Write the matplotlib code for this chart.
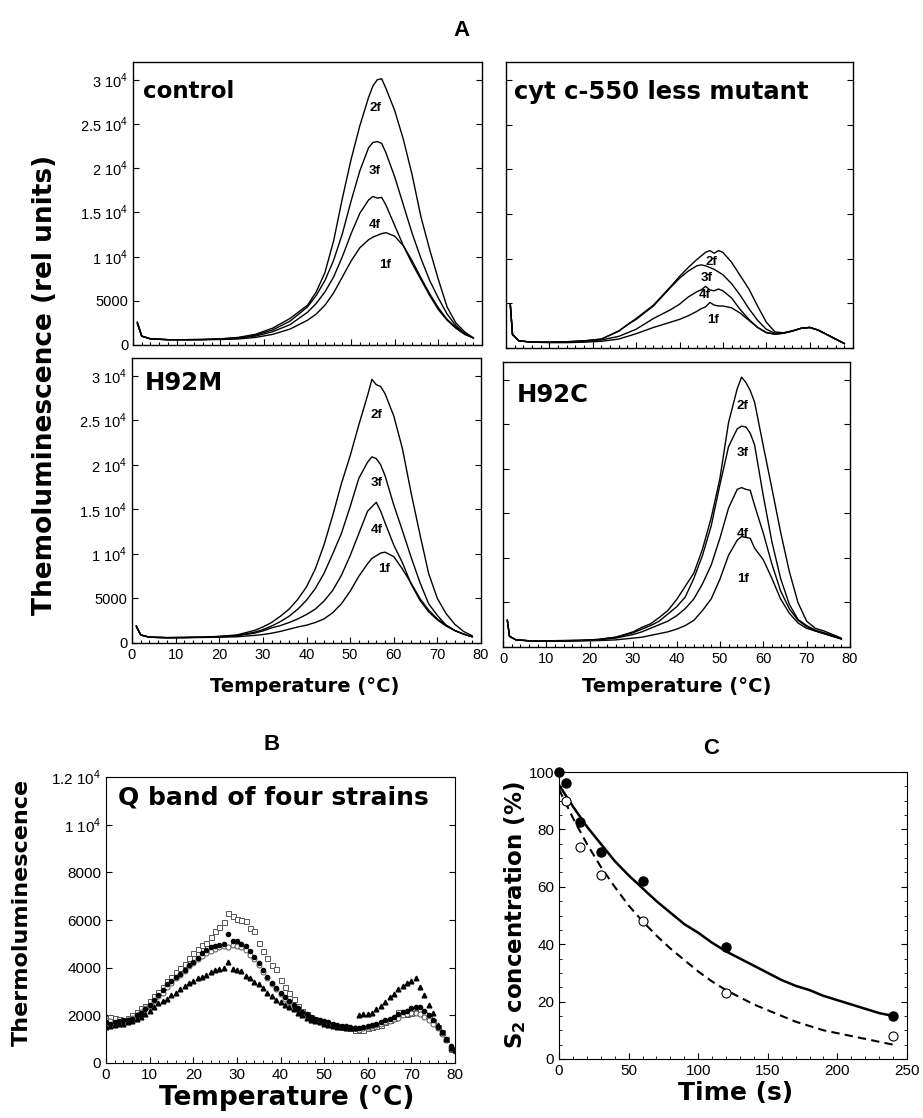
import matplotlib
matplotlib.use("Agg")
import matplotlib.pyplot as plt
from matplotlib.ticker import MultipleLocator, FixedLocator

plt.rcParams['font.family'] = ['Liberation Sans', 'DejaVu Sans']
plt.rcParams['mathtext.fontset'] = 'custom'
plt.rcParams['mathtext.rm'] = 'Liberation Sans'

# ---------------- Panel A data ----------------
temp_ctrl = [1, 2, 4, 8, 12, 16, 20, 24, 28, 32, 36, 40, 42, 44, 46, 48, 50, 52, 54, 55, 56, 57, 58, 60, 62, 64, 66, 68, 70, 72, 74, 76, 78]
ctrl_2f = [2600, 1000, 700, 600, 600, 620, 700, 850, 1200, 1900, 3000, 4500, 6000, 8200, 11800, 16600, 21000, 24800, 28000, 29300, 30000, 30100, 29000, 26500, 23200, 19200, 14500, 10800, 7400, 4300, 2500, 1500, 800]
ctrl_3f = [2500, 1000, 700, 600, 600, 620, 680, 800, 1100, 1700, 2700, 4300, 5600, 7300, 9600, 12600, 16300, 19700, 22300, 22900, 23000, 22800, 21700, 19000, 15800, 12600, 9800, 7300, 5300, 3500, 2200, 1300, 800]
ctrl_4f = [2500, 1000, 700, 600, 600, 620, 660, 760, 1000, 1500, 2300, 3700, 4700, 6000, 7700, 10000, 12600, 14900, 16400, 16800, 16600, 16700, 15800, 13500, 11200, 9200, 7400, 5600, 4000, 2800, 1900, 1200, 800]
ctrl_1f = [2400, 1000, 700, 600, 600, 600, 620, 680, 850, 1200, 1800, 2800, 3500, 4500, 5900, 7700, 9500, 11000, 11900, 12200, 12400, 12600, 12700, 12300, 11200, 9500, 7600, 5800, 4200, 2900, 2000, 1300, 800]

temp_cyt = [1, 1.5, 3, 6, 10, 14, 18, 22, 26, 28, 30, 34, 38, 40, 42, 44, 45, 46, 47, 48, 49, 50, 52, 54, 56, 58, 60, 62, 64, 66, 68, 70, 72, 74, 76, 78]
cyt_2f = [4800, 1500, 800, 650, 650, 700, 800, 1000, 1900, 2600, 3300, 4800, 6900, 8000, 9000, 9900, 10300, 10700, 10900, 10600, 10900, 10700, 9600, 8100, 6600, 4700, 2900, 1800, 1700, 1900, 2200, 2300, 2000, 1500, 1000, 500]
cyt_3f = [4800, 1500, 800, 650, 650, 700, 800, 1000, 1900, 2600, 3200, 4700, 6800, 7800, 8600, 9200, 9300, 9200, 9000, 8800, 8500, 8200, 7200, 5900, 4400, 3100, 2100, 1650, 1700, 1900, 2200, 2300, 2000, 1500, 1000, 500]
cyt_4f = [4800, 1500, 800, 650, 650, 680, 750, 900, 1300, 1700, 2100, 3300, 4300, 4900, 5700, 6300, 6500, 6900, 6500, 6400, 6600, 6400, 5600, 4300, 3200, 2300, 1700, 1550, 1650, 1900, 2200, 2300, 2000, 1500, 1000, 500]
cyt_1f = [4800, 1500, 800, 650, 600, 600, 650, 750, 1000, 1300, 1600, 2300, 2900, 3200, 3600, 4100, 4400, 4600, 5100, 4800, 4700, 4700, 4500, 3900, 3100, 2300, 1750, 1550, 1650, 1900, 2200, 2300, 2000, 1500, 1000, 500]

temp_m = [1, 2, 4, 8, 12, 16, 20, 24, 28, 30, 32, 34, 36, 38, 40, 42, 44, 46, 48, 50, 52, 54, 55, 56, 57, 58, 60, 62, 64, 66, 68, 70, 72, 74, 76, 78]
m_2f = [1900, 900, 650, 600, 620, 650, 750, 900, 1400, 1800, 2300, 3000, 3800, 4900, 6300, 8300, 11000, 14300, 17900, 21000, 24500, 27800, 29600, 29000, 28800, 28000, 25500, 21800, 16800, 12200, 7800, 5000, 3300, 2100, 1300, 800]
m_3f = [1900, 900, 650, 600, 620, 650, 720, 850, 1200, 1500, 1900, 2400, 3000, 3800, 4800, 6100, 7800, 10000, 12300, 15300, 18500, 20300, 20900, 20700, 20000, 18800, 15500, 12600, 9600, 6800, 4400, 3100, 2000, 1400, 1000, 700]
m_4f = [1900, 900, 650, 600, 620, 650, 700, 800, 1100, 1350, 1700, 1950, 2300, 2700, 3200, 3800, 4700, 5900, 7600, 9800, 12300, 14800, 15300, 15800, 14800, 13500, 11000, 9000, 6600, 4800, 3500, 2600, 1900, 1400, 1000, 700]
m_1f = [1800, 900, 650, 600, 600, 620, 650, 700, 850, 950, 1100, 1300, 1550, 1800, 2000, 2300, 2700, 3400, 4400, 5800, 7500, 8900, 9500, 9800, 10100, 10200, 9700, 8300, 6700, 5000, 3700, 2700, 2000, 1400, 1000, 700]

temp_c = [1, 1.5, 3, 6, 10, 14, 18, 22, 26, 30, 32, 34, 36, 38, 40, 42, 44, 46, 48, 50, 52, 54, 55, 56, 57, 58, 60, 62, 64, 66, 68, 70, 72, 74, 76, 78]
c_2f = [3000, 1200, 800, 700, 700, 720, 750, 850, 1100, 1700, 2200, 2600, 3300, 4100, 5300, 6800, 8300, 11000, 14500, 18900, 25200, 29000, 30300, 29700, 28800, 27500, 22600, 17800, 12900, 8500, 5000, 2900, 2100, 1800, 1400, 1000]
c_3f = [3000, 1200, 800, 700, 700, 720, 750, 850, 1100, 1600, 2000, 2400, 2900, 3700, 4500, 5600, 7700, 10300, 13600, 18200, 22500, 24500, 24800, 24700, 24000, 22700, 17000, 11800, 7700, 4800, 3100, 2400, 1900, 1600, 1300, 900]
c_4f = [3000, 1200, 800, 700, 700, 700, 730, 800, 1000, 1400, 1700, 2100, 2500, 2900, 3500, 4300, 5400, 7100, 9200, 12200, 15600, 17700, 17900, 17700, 17600, 15900, 12800, 9300, 6300, 4300, 3000, 2300, 1800, 1500, 1200, 900]
c_1f = [3000, 1200, 800, 700, 650, 650, 680, 720, 800, 1000, 1100, 1300, 1500, 1700, 2000, 2400, 3000, 4100, 5400, 7600, 10300, 12000, 12400, 12300, 12200, 11100, 9800, 7700, 5400, 3800, 2700, 2100, 1800, 1500, 1200, 900]

# curve label positions (T, value) per panel
lab_names = ['2f', '3f', '4f', '1f']
lab_ctrl = [(55.5, 26800), (55.5, 19700), (55.5, 13600), (57.8, 9100)]
lab_cyt = [(47.4, 9600), (46.3, 7800), (45.9, 5900), (47.7, 3100)]
lab_m = [(56.0, 25600), (56.0, 18000), (56.0, 12700), (57.8, 8300)]
lab_c = [(55.3, 27100), (55.3, 21800), (55.3, 12700), (55.3, 7600)]

y_ticks_A = [0, 5000, 10000, 15000, 20000, 25000, 30000]
y_ticklabels_A = ['0', '5000', r'1 10$^4$', r'1.5 10$^4$', r'2 10$^4$', r'2.5 10$^4$', r'3 10$^4$']

# ---------------- Panel B data ----------------
temp_B = list(range(0, 81))
B_squares = [1900, 1950, 1900, 1850, 1800, 1900, 2000, 2150, 2300, 2400, 2600, 2800, 3000, 3200, 3450, 3600, 3800, 4000, 4150, 4400,
             4600, 4800, 4950, 5050, 5300, 5550, 5700, 5900, 6300, 6150, 6050, 6000, 5950, 5650, 5550, 5050, 4700, 4400, 4100, 3950,
             3500, 3200, 2950, 2700, 2400, 2200, 2050, 1950, 1850, 1750, 1700, 1650, 1600, 1550, 1500, 1500, 1450, 1400, 1380, 1400,
             1450, 1500, 1550, 1600, 1700, 1800, 1900, 2150, 2100, 2050, 2100, 2150, 2200, 2050, 1900, 1750, 1500, 1300, 1000, 600, 550]
B_fcircles = [1700, 1650, 1700, 1750, 1800, 1800, 1850, 2000, 2100, 2250, 2450, 2650, 2850, 3050, 3300, 3450, 3600, 3750, 3900, 4100,
              4250, 4400, 4600, 4750, 4850, 4900, 4950, 5000, 5400, 5100, 5100, 5000, 4900, 4700, 4450, 4200, 3900, 3600, 3350, 3150,
              2950, 2750, 2600, 2450, 2300, 2150, 2050, 1950, 1850, 1800, 1750, 1700, 1650, 1600, 1550, 1550, 1500, 1450, 1450, 1500,
              1550, 1600, 1650, 1700, 1800, 1850, 1950, 2050, 2150, 2200, 2300, 2350, 2350, 2200, 2000, 1800, 1500, 1300, 1000, 700, 550]
B_ocircles = [1800, 1750, 1650, 1700, 1750, 1800, 1900, 2000, 2150, 2300, 2400, 2600, 2800, 2950, 3200, 3350, 3550, 3700, 3850, 4050,
              4200, 4350, 4500, 4600, 4700, 4800, 4850, 4900, 4850, 4950, 4900, 4850, 4750, 4550, 4350, 4100, 3800, 3550, 3300, 3100,
              2900, 2700, 2550, 2400, 2250, 2100, 2000, 1900, 1800, 1750, 1700, 1650, 1600, 1550, 1500, 1500, 1450, 1450, 1400, 1450,
              1500, 1550, 1600, 1650, 1700, 1750, 1850, 1900, 2000, 2050, 2100, 2100, 2050, 1950, 1800, 1650, 1450, 1200, 950, 650, 500]
B_triangles = [1500, 1550, 1600, 1650, 1650, 1700, 1750, 1850, 1950, 2050, 2200, 2350, 2500, 2600, 2700, 2850, 2950, 3100, 3250, 3350,
               3450, 3550, 3600, 3700, 3800, 3900, 3950, 4000, 4250, 3950, 3900, 3850, 3650, 3550, 3400, 3300, 3150, 2950, 2800, 2650,
               2550, 2450, 2350, 2250, 2100, 2000, 1900, 1800, 1750, 1700, 1650, 1600, 1550, 1520, 1500, 1480, 1450, 1450, 2000, 2050,
               2050, 2100, 2250, 2400, 2550, 2750, 2900, 3100, 3250, 3350, 3450, 3550, 3200, 2850, 2450, 2100, 1600, 1300, 1000, 650, 550]
y_ticks_B = [0, 2000, 4000, 6000, 8000, 10000, 12000]
y_ticklabels_B = ['0', '2000', '4000', '6000', '8000', r'1 10$^4$', r'1.2 10$^4$']

# ---------------- Panel C data ----------------
time_pts = [0, 5, 15, 30, 60, 120, 240]
S2_filled = [100, 96, 82.5, 72, 62, 39, 15]
time_open = [5, 15, 30, 60, 120, 240]
S2_open = [90, 74, 64, 48, 23, 8]
time_fit = [0, 10, 20, 30, 40, 50, 60, 70, 80, 90, 100, 110, 120, 130, 140, 150, 160, 170, 180, 190, 200, 210, 220, 230, 240]
fit_solid = [95.5, 88, 81, 75, 69, 64, 59.5, 55, 51, 47, 44, 40.5, 37.5, 35, 32.5, 30, 27.5, 25.5, 24, 22, 20.5, 19, 17.5, 16, 15]
fit_dashed = [94, 84, 75, 67, 60, 53.5, 48, 43, 38.5, 34.5, 30.5, 27, 24, 21.5, 19, 17, 15, 13, 11.5, 10, 9, 8, 7, 6, 5]

# ---------------- Figure ----------------
W, H = 923, 1118
fig = plt.figure(figsize=(W / 100, H / 100), dpi=100)


def ax_at(l, r, t, b):
    return fig.add_axes([l / W, 1 - b / H, (r - l) / W, (b - t) / H])


title_font = dict(family=['DejaVu Sans'], fontweight='bold')


def style_A(ax, show_x, show_y):
    ax.set_xlim(0, 80)
    ax.set_ylim(0, 32000)
    ax.xaxis.set_major_locator(MultipleLocator(10))
    ax.xaxis.set_minor_locator(MultipleLocator(2))
    ax.yaxis.set_major_locator(FixedLocator(y_ticks_A))
    ax.tick_params(which='both', direction='in', top=False, right=True, labelsize=10.5, width=0.8)
    ax.tick_params(which='major', length=4)
    ax.tick_params(which='minor', length=2.5)
    if show_y:
        ax.set_yticklabels(y_ticklabels_A)
    else:
        ax.set_yticklabels([])
    if not show_x:
        ax.set_xticklabels([])
    for s in ax.spines.values():
        s.set_linewidth(1.0)


panels = [
    ((133, 482, 62, 345), temp_ctrl, [ctrl_2f, ctrl_3f, ctrl_4f, ctrl_1f], lab_ctrl, 'control', (0.029, 0.894), 16.5, False, True),
    ((506, 853, 62, 348), temp_cyt, [cyt_2f, cyt_3f, cyt_4f, cyt_1f], lab_cyt, 'cyt c-550 less mutant', (0.023, 0.895), 17.5, False, False),
    ((132, 481, 358, 643), temp_m, [m_2f, m_3f, m_4f, m_1f], lab_m, 'H92M', (0.037, 0.912), 17.5, True, True),
    ((503, 850, 362, 647), temp_c, [c_2f, c_3f, c_4f, c_1f], lab_c, 'H92C', (0.04, 0.884), 17.5, True, False),
]

for box, T, curves, labs, name, npos, fs, sx, sy in panels:
    ax = ax_at(*box)
    for ys in curves:
        ax.plot(T, ys, color='black', lw=1.0)
    for nm, (lx, ly) in zip(lab_names, labs):
        ax.text(lx, ly, nm, ha='center', va='center', fontsize=9.5, fontweight='bold')
    ax.text(npos[0], npos[1], name, transform=ax.transAxes, ha='left', va='center', fontsize=fs, **title_font)
    style_A(ax, sx, sy)

fig.text(461 / W, 1 - 30 / H, 'A', ha='center', va='center', fontsize=16, fontweight='bold')
fig.text(45 / W, 1 - 385 / H, 'Themoluminescence (rel units)', rotation=90, ha='center', va='center', fontsize=19, **title_font)
fig.text(305 / W, 1 - 687 / H, 'Temperature (°C)', ha='center', va='center', fontsize=14, **title_font)
fig.text(677 / W, 1 - 687 / H, 'Temperature (°C)', ha='center', va='center', fontsize=14, **title_font)

# Panel B
axB = ax_at(106, 455, 777, 1063)
axB.plot(temp_B, B_squares, ls='none', marker='s', ms=3.6, mfc='white', mec='#555555', mew=0.7)
axB.plot(temp_B, B_ocircles, ls='none', marker='o', ms=3.6, mfc='white', mec='#555555', mew=0.7)
axB.plot(temp_B, B_fcircles, ls='none', marker='o', ms=3.0, mfc='black', mec='black')
axB.plot(temp_B, B_triangles, ls='none', marker='^', ms=3.4, mfc='black', mec='black')
axB.set_xlim(0, 80)
axB.set_ylim(0, 12000)
axB.xaxis.set_major_locator(MultipleLocator(10))
axB.xaxis.set_minor_locator(MultipleLocator(2))
axB.yaxis.set_major_locator(FixedLocator(y_ticks_B))
axB.set_yticklabels(y_ticklabels_B)
axB.tick_params(which='both', direction='in', right=True, labelsize=11)
axB.tick_params(which='major', length=4)
axB.tick_params(which='minor', length=2.5)
axB.text(0.034, 0.93, 'Q band of four strains', transform=axB.transAxes, ha='left', va='center', fontsize=18, **title_font)
fig.text(272 / W, 1 - 745 / H, 'B', ha='center', va='center', fontsize=16, fontweight='bold')
fig.text(22 / W, 1 - 912 / H, 'Thermoluminescence', rotation=90, ha='center', va='center', fontsize=16, **title_font)
fig.text(287 / W, 1 - 1098 / H, 'Temperature (°C)', ha='center', va='center', fontsize=19, **title_font)

# Panel C
axC = ax_at(559, 907, 772, 1059)
axC.plot(time_fit, fit_solid, color='black', lw=1.8)
axC.plot(time_fit, fit_dashed, color='black', lw=1.5, ls=(0, (4, 2.5)))
axC.plot(time_pts, S2_filled, ls='none', marker='o', ms=6.5, mfc='black', mec='black', clip_on=False)
axC.plot(time_open, S2_open, ls='none', marker='o', ms=6.5, mfc='white', mec='black', mew=0.8, clip_on=False)
axC.set_xlim(0, 250)
axC.set_ylim(0, 100)
axC.xaxis.set_major_locator(MultipleLocator(50))
axC.xaxis.set_minor_locator(MultipleLocator(10))
axC.yaxis.set_major_locator(MultipleLocator(20))
axC.yaxis.set_minor_locator(MultipleLocator(5))
axC.tick_params(which='both', direction='in', right=True, labelsize=11)
axC.tick_params(which='major', length=4)
axC.tick_params(which='minor', length=2.5)
fig.text(711 / W, 1 - 748 / H, 'C', ha='center', va='center', fontsize=16, fontweight='bold')
fig.text(515 / W, 1 - 915 / H, r'S$_{\mathbf{2}}$ concentration (%)', rotation=90, ha='center', va='center', fontsize=16.5, **title_font)
fig.text(736 / W, 1 - 1093 / H, 'Time (s)', ha='center', va='center', fontsize=18, **title_font)

fig.savefig('out.png', dpi=100)
